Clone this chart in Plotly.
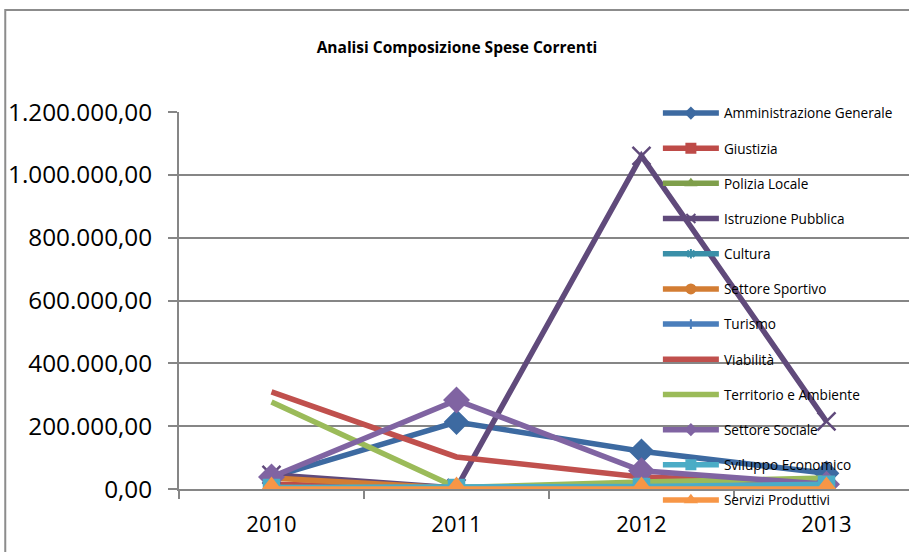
import plotly.graph_objects as go

years = ["2010", "2011", "2012", "2013"]

series_names = [
    "Amministrazione Generale", "Giustizia", "Polizia Locale", "Istruzione Pubblica",
    "Cultura", "Settore Sportivo", "Turismo", "Viabilità",
    "Territorio e Ambiente", "Settore Sociale", "Sviluppo Economico", "Servizi Produttivi",
]

amministrazione_generale = [38000, 213000, 120000, 50000]
giustizia = [15000, 3000, 8000, 5000]
polizia_locale = [5000, 2000, 4000, 6000]
istruzione_pubblica = [45000, 3000, 1060000, 215000]
cultura = [3000, 1000, 2000, 3000]
settore_sportivo = [35000, 2000, 3000, 4000]
turismo = [2000, 1000, 1000, 2000]
viabilita = [309000, 102000, 38000, 20000]
territorio_ambiente = [277000, 5000, 22000, 35000]
settore_sociale = [38000, 283000, 58000, 15000]
sviluppo_economico = [5000, 5000, 8000, 15000]
servizi_produttivi = [0, 0, 0, 0]

y_tick_values = [0, 200000, 400000, 600000, 800000, 1000000, 1200000]
y_tick_labels = ["0,00", "200.000,00", "400.000,00", "600.000,00",
                 "800.000,00", "1.000.000,00", "1.200.000,00"]

values = [
    amministrazione_generale, giustizia, polizia_locale, istruzione_pubblica,
    cultura, settore_sportivo, turismo, viabilita,
    territorio_ambiente, settore_sociale, sviluppo_economico, servizi_produttivi,
]

colors = ["#3D6AA1", "#BE4B48", "#7F9F4B", "#604A7B",
          "#3A8FA8", "#D37D33", "#4A7EBB", "#C0504D",
          "#9BBB59", "#8064A2", "#4BACC6", "#F79646"]
symbols = ["diamond", "square", "triangle-up", "x-thin",
           "asterisk", "circle", "line-ns", None,
           None, "diamond", "square", "triangle-up"]
sizes = [17, 12, 14, 18, 12, 15, 8, 0, 0, 18, 15, 21]
legend_sizes = [8, 9, 8, 9, 8, 9, 7, 0, 0, 8, 9, 9]

FONT = "Open Sans, Liberation Sans, sans-serif"

fig = go.Figure()
for i, (name, vals) in enumerate(zip(series_names, values)):
    sym = symbols[i]
    mode = "lines" if sym is None else "lines+markers"
    marker = dict() if sym is None else dict(
        symbol=sym, size=sizes[i], color=colors[i],
        line=dict(color=colors[i], width=2.5))
    fig.add_trace(go.Scatter(
        x=years, y=vals, name=name, mode=mode,
        line=dict(color=colors[i], width=5.5),
        marker=marker, showlegend=False, hoverinfo="x+y+name",
    ))

# legend entries (smaller markers, as in the original legend)
for i, name in enumerate(series_names):
    sym = symbols[i]
    mode = "lines" if sym is None else "lines+markers"
    marker = dict() if sym is None else dict(
        symbol=sym, size=legend_sizes[i], color=colors[i],
        line=dict(color=colors[i], width=2))
    fig.add_trace(go.Scatter(
        x=[None], y=[None], name=name, mode=mode,
        line=dict(color=colors[i], width=5.5),
        marker=marker, legendgroup=name, showlegend=True,
    ))

fig.update_layout(
    width=909, height=552,
    margin=dict(l=179, r=0, t=112, b=63),
    paper_bgcolor="white", plot_bgcolor="white",
    font=dict(family=FONT, color="#000000"),
    title=dict(text="<b>Analisi Composizione Spese Correnti</b>",
               font=dict(size=15.5, family=FONT, color="#000000"),
               x=457 / 909, xanchor="center", y=1 - 48 / 552, yanchor="middle"),
    showlegend=True,
    legend=dict(x=0.656, y=1.038, xanchor="left", yanchor="top",
                bgcolor="rgba(0,0,0,0)", font=dict(size=13.6, family=FONT),
                itemwidth=56, tracegroupgap=14.5, traceorder="grouped",
                maxheight=600),
    shapes=[dict(type="rect", xref="paper", yref="paper",
                 x0=-0.238, x1=1.05, y0=-0.2, y1=1.2706,
                 line=dict(color="#8C8C8C", width=2), layer="below")],
)

fig.update_xaxes(
    type="category", range=[-0.5, 3.446], tickson="boundaries",
    showgrid=False, showline=True, linecolor="#868686", linewidth=2,
    ticks="outside", ticklen=8, tickcolor="#868686", tickwidth=2,
    tickfont=dict(size=22, family=FONT), ticklabelstandoff=15,
    zeroline=False, fixedrange=True,
)
fig.update_yaxes(
    range=[0, 1200000], tickvals=y_tick_values, ticktext=y_tick_labels,
    showgrid=True, gridcolor="#868686", gridwidth=2,
    showline=True, linecolor="#868686", linewidth=2,
    ticks="outside", ticklen=9, tickcolor="#868686", tickwidth=2,
    tickfont=dict(size=24.3, family=FONT), ticklabelstandoff=11,
    zeroline=False, fixedrange=True,
)

fig.write_html("out.html", config={"displayModeBar": False},
               post_script="document.body.style.margin='0';")
